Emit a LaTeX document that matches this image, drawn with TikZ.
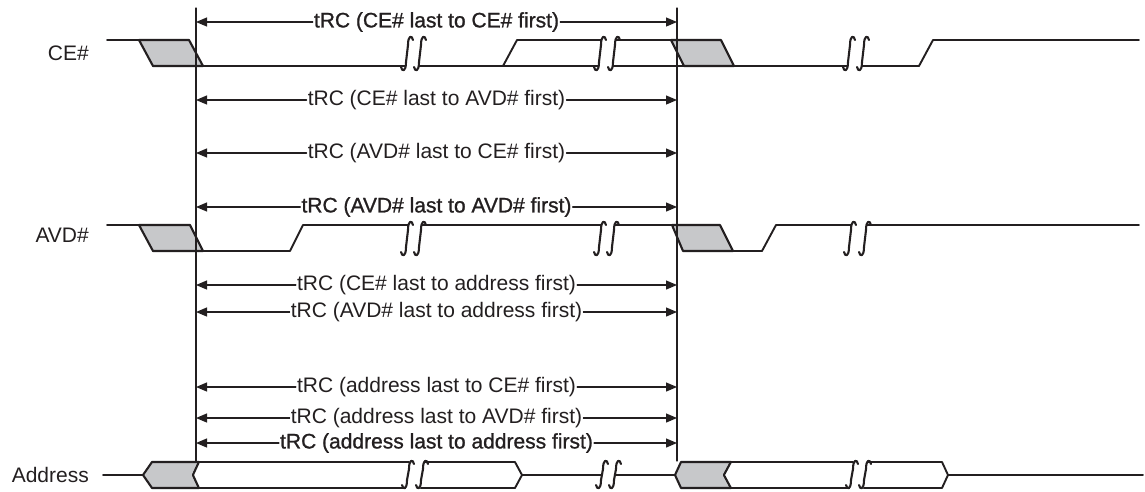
\documentclass[tikz,border=0pt]{standalone}
\usepackage{fontspec}
\setmainfont{Liberation Sans}
\newfontfamily\heavyfont{Liberation Sans}[FakeBold=1]
\usepackage{tikz}
\usetikzlibrary{arrows.meta}
\definecolor{ink}{HTML}{231F20}
\definecolor{shade}{HTML}{C7C8CA}
% one break mark: left x, right x, top y, bottom y
\newcommand{\sbreak}[4]{%
  \fill[white] ({#1+2},#3) -- ({#1-2},#4) -- ({#2-2},#4) -- ({#2+2},#3) -- cycle;
  \draw[brk] ({#1+6},{#3+5}) .. controls ({#1+5},#3) and ({#1+1},#3) .. ({#1+1},{#3+10}) -- ({#1-1},{#4-10}) .. controls ({#1-1},#4) and ({#1-5},#4) .. ({#1-6},{#4-5});
  \draw[brk] ({#2+6},{#3+5}) .. controls ({#2+5},#3) and ({#2+1},#3) .. ({#2+1},{#3+10}) -- ({#2-1},{#4-10}) .. controls ({#2-1},#4) and ({#2-5},#4) .. ({#2-6},{#4-5});
}

\begin{document}
\begin{tikzpicture}[line cap=round,line join=round,x=1pt,y=-1pt,
    sig/.style={draw=ink,line width=1.9pt},
    gry/.style={draw=ink,fill=shade,line width=2.1pt},
    bus/.style={draw=ink,fill=white,line width=1.9pt},
    brk/.style={draw=ink,line width=2.1pt},
    dim/.style={draw=ink,line width=1.2pt,-{Triangle[length=11pt,width=9pt]}},
    lbl/.style={text=ink,fill=white,inner sep=1pt,font=\fontsize{21pt}{25pt}\selectfont},
    sname/.style={text=ink,anchor=east,inner sep=0pt,font=\fontsize{21pt}{25pt}\selectfont}]
\useasboundingbox (0,0) rectangle (1145,491);
% signal names
\node[sname] (ce) at (89,53) {CE\#};
\node[sname] (avd) at (89,235) {AVD\#};
\node[sname] (adr) at (89,475) {Address};
% CE#
\draw[sig] (107,40) -- (189,40);
\draw[sig] (153,66) -- (919,66) -- (933,40) -- (1139,40);
\draw[sig] (503,66) -- (517,40) -- (672,40);
\draw[gry] (139,40) -- (189,40) -- (203,66) -- (153,66) -- cycle;
\draw[gry] (671,40) -- (721,40) -- (734,66) -- (684,66) -- cycle;
% AVD#
\draw[sig] (107,225) -- (190,225);
\draw[sig] (153,251) -- (290,251) -- (303,225) -- (672,225);
\draw[sig] (733,251) -- (762,251) -- (776,225) -- (1139,225);
\draw[gry] (139,225) -- (190,225) -- (203,251) -- (153,251) -- cycle;
\draw[gry] (672,225) -- (720,225) -- (733,251) -- (683,251) -- cycle;
% Address
\draw[sig] (103,475) -- (143,475);
\draw[sig] (522,475) -- (675,475);
\draw[sig] (948,475) -- (1143,475);
\draw[gry] (143,475) -- (152,462) -- (199,462) -- (193,475) -- (199,488) -- (152,488) -- cycle;
\draw[bus] (199,462) -- (515,462) -- (522,475) -- (515,488) -- (199,488) -- (193,475) -- cycle;
\draw[gry] (675,475) -- (681,462) -- (731,462) -- (724,475) -- (731,488) -- (681,488) -- cycle;
\draw[bus] (731,462) -- (942,462) -- (948,475) -- (942,488) -- (731,488) -- (724,475) -- cycle;
% breaks
\sbreak{407}{420}{35}{72}
\sbreak{600}{614}{35}{72}
\sbreak{849}{863}{35}{72}
\sbreak{407}{420}{220}{257}
\sbreak{600}{613}{220}{257}
\sbreak{850}{865}{220}{257}
\sbreak{408}{422}{459}{490}
\sbreak{602}{615}{459}{490}
\sbreak{852}{865}{459}{490}
% reference lines
\coordinate (vl) at (196,8);
\coordinate (vlb) at (196,461);
\coordinate (vr) at (677,8);
\coordinate (vrb) at (677,461);
\draw[draw=ink,line width=1.2pt] (vl) -- (vlb);
\draw[draw=ink,line width=1.2pt] (vr) -- (vrb);
% timing labels
\node[lbl] (t1) at (436.5,22) {\heavyfont tRC (CE\# last to CE\# first)};
\node[lbl] (t2) at (436.5,100) {tRC (CE\# last to AVD\# first)};
\node[lbl] (t3) at (436.5,153) {tRC (AVD\# last to CE\# first)};
\node[lbl] (t4) at (436.5,207) {\heavyfont tRC (AVD\# last to AVD\# first)};
\node[lbl] (t5) at (436.5,285) {tRC (CE\# last to address first)};
\node[lbl] (t6) at (436.5,312) {tRC (AVD\# last to address first)};
\node[lbl] (t7) at (436.5,387) {tRC (address last to CE\# first)};
\node[lbl] (t8) at (436.5,418) {tRC (address last to AVD\# first)};
\node[lbl] (t9) at (436.5,443) {\heavyfont tRC (address last to address first)};
\draw[dim] (t1) -- (t1 -| vl);
\draw[dim] (t1) -- (t1 -| vr);
\draw[dim] (t2) -- (t2 -| vl);
\draw[dim] (t2) -- (t2 -| vr);
\draw[dim] (t3) -- (t3 -| vl);
\draw[dim] (t3) -- (t3 -| vr);
\draw[dim] (t4) -- (t4 -| vl);
\draw[dim] (t4) -- (t4 -| vr);
\draw[dim] (t5) -- (t5 -| vl);
\draw[dim] (t5) -- (t5 -| vr);
\draw[dim] (t6) -- (t6 -| vl);
\draw[dim] (t6) -- (t6 -| vr);
\draw[dim] (t7) -- (t7 -| vl);
\draw[dim] (t7) -- (t7 -| vr);
\draw[dim] (t8) -- (t8 -| vl);
\draw[dim] (t8) -- (t8 -| vr);
\draw[dim] (t9) -- (t9 -| vl);
\draw[dim] (t9) -- (t9 -| vr);
\end{tikzpicture}
\end{document}
